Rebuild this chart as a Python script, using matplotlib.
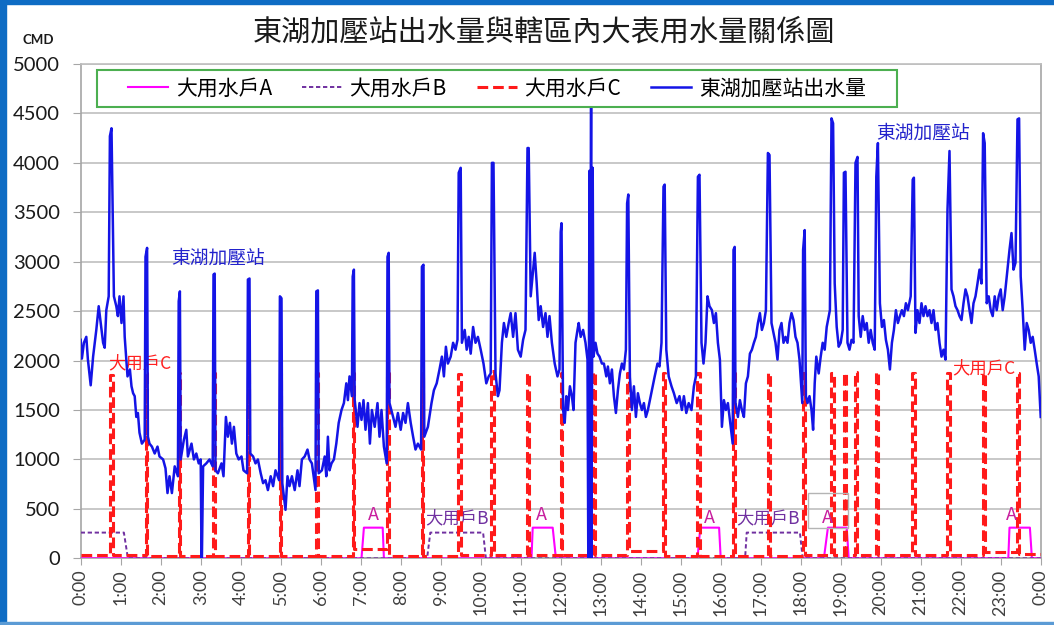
"""Donghu booster station outflow vs. large-user demand over one day."""

import matplotlib

matplotlib.use("Agg")
import matplotlib.pyplot as plt
from matplotlib.patches import Rectangle

plt.rcParams["font.family"] = ["Noto Sans CJK TC", "DejaVu Sans"]

# ---------------------------------------------------------------------------
# Data (hours since 0:00, values in CMD)
# ---------------------------------------------------------------------------
TITLE = "東湖加壓站出水量與轄區內大表用水量關係圖"
SERIES_NAMES = ["大用水戶A", "大用水戶B", "大用水戶C", "東湖加壓站出水量"]

HOUR_TICKS = list(range(25))
HOUR_LABELS = [
    "0:00", "1:00", "2:00", "3:00", "4:00", "5:00", "6:00", "7:00", "8:00",
    "9:00", "10:00", "11:00", "12:00", "13:00", "14:00", "15:00", "16:00",
    "17:00", "18:00", "19:00", "20:00", "21:00", "22:00", "23:00", "0:00",
]
CMD_TICKS = [0, 500, 1000, 1500, 2000, 2500, 3000, 3500, 4000, 4500, 5000]

STATION_HOURS = [
    0.00, 0.03, 0.08, 0.14, 0.18, 0.25, 0.31, 0.39, 0.45, 0.50, 0.56, 0.60, 0.64, 0.70, 0.73, 0.77, 0.80, 0.83, 0.89, 0.93, 0.97,
    1.02, 1.07, 1.10, 1.17, 1.23, 1.27, 1.31, 1.35, 1.39, 1.43, 1.47, 1.53, 1.60, 1.62, 1.66, 1.68, 1.72, 1.78, 1.85, 1.92, 1.97,
    2.06, 2.12, 2.17, 2.22, 2.28, 2.35, 2.43, 2.45, 2.48, 2.50, 2.58, 2.64, 2.68, 2.77, 2.83, 2.89, 2.95,
    3.00, 3.02, 3.03, 3.06, 3.14, 3.22, 3.30, 3.32, 3.35, 3.37, 3.43, 3.52, 3.57, 3.63, 3.68, 3.73, 3.78, 3.83, 3.89, 3.95,
    4.02, 4.07, 4.16, 4.18, 4.22, 4.24, 4.31, 4.37, 4.43, 4.50, 4.56, 4.62, 4.68, 4.75, 4.81, 4.87, 4.96, 4.98,
    5.02, 5.04, 5.12, 5.17, 5.22, 5.28, 5.35, 5.42, 5.47, 5.53, 5.60, 5.67, 5.72, 5.78, 5.87, 5.89, 5.93, 5.95,
    6.03, 6.10, 6.14, 6.18, 6.22, 6.27, 6.33, 6.39, 6.45, 6.52, 6.58, 6.64, 6.68, 6.72, 6.78, 6.80, 6.83, 6.85, 6.92, 6.97,
    7.02, 7.07, 7.12, 7.18, 7.23, 7.28, 7.35, 7.42, 7.47, 7.52, 7.58, 7.65, 7.67, 7.70, 7.72, 7.81, 7.87, 7.93,
    8.00, 8.06, 8.12, 8.18, 8.25, 8.31, 8.37, 8.43, 8.51, 8.53, 8.57, 8.59, 8.68, 8.77, 8.83, 8.90, 8.97,
    9.03, 9.08, 9.13, 9.18, 9.25, 9.31, 9.37, 9.42, 9.45, 9.50, 9.53, 9.60, 9.65, 9.70, 9.75, 9.81, 9.87, 9.93,
    10.00, 10.07, 10.14, 10.20, 10.25, 10.28, 10.32, 10.37, 10.43, 10.47, 10.53, 10.58, 10.64, 10.70, 10.75, 10.81, 10.87, 10.93,
    11.00, 11.06, 11.12, 11.17, 11.20, 11.25, 11.31, 11.35, 11.40, 11.45, 11.50, 11.56, 11.62, 11.67, 11.72, 11.78, 11.85, 11.92, 11.97,
    12.00, 12.02, 12.06, 12.10, 12.14, 12.18, 12.23, 12.28, 12.32, 12.37, 12.42, 12.45, 12.50, 12.56, 12.62, 12.67, 12.69, 12.72, 12.73, 12.76, 12.77, 12.80, 12.82, 12.87, 12.92, 12.97,
    13.03, 13.08, 13.14, 13.18, 13.23, 13.28, 13.33, 13.38, 13.43, 13.48, 13.53, 13.58, 13.63, 13.66, 13.69, 13.73, 13.78, 13.83, 13.88, 13.93, 13.98,
    14.03, 14.08, 14.13, 14.18, 14.23, 14.28, 14.35, 14.42, 14.47, 14.52, 14.57, 14.60, 14.64, 14.70, 14.77, 14.83, 14.90, 14.97,
    15.03, 15.08, 15.14, 15.20, 15.27, 15.33, 15.38, 15.43, 15.47, 15.52, 15.57, 15.62, 15.67, 15.72, 15.78, 15.83, 15.88, 15.93, 15.98,
    16.03, 16.08, 16.13, 16.18, 16.23, 16.30, 16.32, 16.35, 16.37, 16.43, 16.48, 16.53, 16.58, 16.63, 16.68, 16.73, 16.78, 16.83, 16.88, 16.93, 16.98,
    17.03, 17.08, 17.13, 17.18, 17.22, 17.27, 17.32, 17.37, 17.42, 17.47, 17.52, 17.57, 17.62, 17.67, 17.72, 17.77, 17.82, 17.87, 17.92, 17.97,
    18.04, 18.06, 18.10, 18.13, 18.17, 18.22, 18.27, 18.31, 18.35, 18.39, 18.45, 18.50, 18.55, 18.60, 18.65, 18.70, 18.73, 18.77, 18.81, 18.85, 18.90, 18.95,
    19.00, 19.05, 19.08, 19.12, 19.17, 19.22, 19.27, 19.32, 19.37, 19.42, 19.45, 19.50, 19.55, 19.60, 19.65, 19.70, 19.75, 19.80, 19.85, 19.89, 19.93, 19.98,
    20.03, 20.08, 20.13, 20.18, 20.23, 20.28, 20.33, 20.38, 20.43, 20.48, 20.53, 20.58, 20.63, 20.68, 20.75, 20.80, 20.83, 20.87, 20.92, 20.97,
    21.02, 21.07, 21.12, 21.17, 21.22, 21.27, 21.32, 21.37, 21.42, 21.47, 21.52, 21.57, 21.62, 21.67, 21.72, 21.77, 21.82, 21.87, 21.92, 21.97,
    22.02, 22.07, 22.12, 22.17, 22.22, 22.27, 22.32, 22.37, 22.42, 22.47, 22.52, 22.56, 22.60, 22.65, 22.70, 22.75, 22.80, 22.85, 22.90, 22.95,
    23.00, 23.05, 23.10, 23.17, 23.22, 23.27, 23.32, 23.37, 23.42, 23.46, 23.50, 23.55, 23.60, 23.65, 23.70, 23.75, 23.80, 23.85, 23.90, 23.95, 24.00,
]
STATION_CMD = [
    2210, 2020, 2180, 2240, 2010, 1750, 2040, 2310, 2550, 2380, 2180, 2130, 2510, 2650, 4270, 4350, 3530, 2650, 2550, 2450, 2650,
    2380, 2650, 2240, 1840, 1910, 1740, 1670, 1640, 1430, 1470, 1270, 1160, 1200, 3050, 3140, 1230, 1160, 1130, 1060, 1130, 1030,
    1000, 910, 660, 830, 660, 930, 830, 2600, 2700, 1000, 1200, 1300, 1030, 1160, 1000, 1060, 960,
    1000, 0, 0, 930, 960, 1000, 930, 2870, 2880, 890, 860, 960, 830, 1430, 1230, 1370, 1160, 1330, 1060, 1000,
    1030, 890, 860, 2820, 2830, 1060, 1030, 960, 1000, 860, 760, 790, 690, 830, 730, 890, 790, 2650,
    2630, 760, 490, 830, 730, 830, 690, 890, 730, 1000, 1030, 1100, 1000, 960, 690, 2700, 2710, 860,
    890, 1030, 830, 1230, 890, 960, 1000, 1160, 1370, 1500, 1570, 1770, 1600, 1840, 1640, 2850, 2920, 1600, 1330, 1570,
    1400, 1600, 1300, 1570, 1160, 1500, 1330, 1570, 1230, 1500, 1130, 960, 3050, 3090, 1570, 1430, 1330, 1470,
    1300, 1470, 1370, 1570, 1370, 1230, 1100, 1160, 1100, 2950, 2970, 1230, 1330, 1570, 1700, 1770, 1910,
    2040, 1840, 2140, 1970, 2040, 2180, 2110, 2210, 3900, 3950, 2180, 2310, 2110, 2240, 2070, 2340, 2180, 2240,
    2110, 1970, 1770, 1840, 1870, 4000, 4000, 1870, 1640, 1700, 2180, 2380, 2240, 2380, 2480, 2240, 2480, 2110,
    2040, 2210, 2310, 4150, 4150, 2650, 2920, 3090, 2780, 2410, 2550, 2340, 2480, 2240, 2450, 2180, 1970, 1840, 1910,
    3300, 3390, 1500, 1370, 1640, 1500, 1740, 1640, 1500, 2180, 2310, 2380, 2240, 2310, 2180, 2010, 0, 3920, 0, 4600, 0, 3950, 2040, 2180, 2070, 2040,
    1970, 1970, 1840, 1940, 1770, 1910, 1640, 1470, 1700, 1870, 1970, 1910, 2110, 3590, 3680, 1840, 1500, 1740, 1430, 1670, 1570,
    1500, 1570, 1430, 1500, 1600, 1700, 1840, 1970, 1940, 2180, 3760, 3780, 2110, 1840, 1740, 1670, 1570, 1640,
    1500, 1640, 1470, 1570, 1500, 1740, 1840, 3860, 3880, 2180, 1970, 2180, 2650, 2550, 2510, 2380, 2480, 2180, 2010,
    1330, 1600, 1500, 1570, 1400, 1160, 3120, 3150, 1570, 1430, 1600, 1500, 1430, 1770, 1840, 2070, 2110, 2180, 2240, 2380, 2480,
    2310, 2380, 2510, 4100, 4080, 2380, 2280, 2180, 2010, 2310, 2380, 2180, 2240, 2180, 2380, 2480, 2410, 2240, 2180, 2010,
    1570, 3120, 3320, 1640, 1570, 1640, 1500, 1300, 1770, 2040, 1870, 2040, 2180, 2110, 2340, 2450, 2510, 4450, 4400, 2780, 2340, 2140,
    2180, 2310, 3900, 3910, 2180, 2110, 2210, 2180, 4000, 4060, 2450, 2240, 2450, 2310, 2380, 2180, 2310, 2180, 2110, 3860, 4200, 2580,
    2340, 2410, 2210, 2110, 1910, 2180, 2310, 2510, 2380, 2450, 2510, 2450, 2580, 2510, 2650, 3830, 3850, 2280, 2510, 2380,
    2580, 2450, 2550, 2450, 2510, 2380, 2510, 2310, 2380, 2180, 2040, 2110, 2010, 3530, 4120, 2720, 2650, 2550, 2510, 2450,
    2410, 2580, 2720, 2650, 2510, 2380, 2580, 2650, 2780, 2920, 2780, 4300, 4200, 2580, 2650, 2510, 2450, 2650, 2510, 2650,
    2720, 2510, 2650, 2920, 3120, 3290, 2920, 2990, 4440, 4450, 2850, 2510, 2110, 2380, 2310, 2180, 2240, 2110, 1970, 1840, 1430,
]

# Large user C: short draw pulses (start, end, peak) and the trickle level after each
C_START = [0.73, 1.62, 2.45, 3.32, 4.18, 4.98, 5.89, 6.80, 7.67, 8.53, 9.44, 10.27,
           11.16, 12.00, 12.80, 13.65, 14.56, 15.42, 16.31, 17.18, 18.06, 18.77,
           19.08, 19.37, 19.89, 20.79, 21.67, 22.56, 23.41]
C_END = [0.81, 1.66, 2.48, 3.35, 4.22, 5.02, 5.93, 6.83, 7.70, 8.57, 9.52, 10.33,
         11.22, 12.03, 12.86, 13.71, 14.62, 15.48, 16.35, 17.24, 18.10, 18.83,
         19.13, 19.42, 19.94, 20.85, 21.73, 22.62, 23.47]
C_PEAK = [1850, 1870, 1870, 1870, 1870, 1870, 1870, 1870, 1870, 1870, 1860, 1890,
          1870, 1870, 1880, 1870, 1870, 1870, 1870, 1870, 1870, 1870,
          1870, 1880, 1880, 1870, 1870, 1870, 1870]
C_BASE_AFTER = [30, 25, 25, 25, 25, 25, 25, 90, 25, 25, 30, 30,
                30, 30, 30, 70, 25, 25, 25, 25, 30, 30,
                30, 30, 30, 30, 30, 60, 40]
C_BASE_START = 30

# Large user A: flat-topped draws
A_RISE = [7.02, 11.27, 15.42, 18.58, 23.19]
A_ON = [7.08, 11.30, 15.49, 18.68, 23.22]
A_OFF = [7.55, 11.80, 15.96, 19.15, 23.73]
A_FALL = [7.58, 11.88, 16.00, 19.20, 23.78]
A_LEVEL = 310

# Large user B: flat-topped draws (the first one is already running at 0:00)
B_RISE = [0.00, 8.66, 16.61]
B_ON = [0.00, 8.74, 16.65]
B_OFF = [1.08, 10.06, 17.98]
B_FALL = [1.18, 10.13, 18.05]
B_LEVEL = 260


def trapezoid_series(rise, on, off, fall, level):
    """Turn a list of flat-topped draws into a line over the day."""
    hours, cmd = [0.0], [level if on[0] == 0 else 0]
    for r, a, b, f in zip(rise, on, off, fall):
        if a > 0:
            hours += [r, a]
            cmd += [0, level]
        hours += [b, f]
        cmd += [level, 0]
    hours.append(24.0)
    cmd.append(0)
    return hours, cmd


def pulse_series(start, end, peak, base_after, base_start):
    """Turn the user C pulse table into a step line."""
    hours, cmd = [0.0], [base_start]
    prev = base_start
    for s, e, p, b in zip(start, end, peak, base_after):
        hours += [s, s, e, e]
        cmd += [prev, p, p, b]
        prev = b
    hours.append(24.0)
    cmd.append(prev)
    return hours, cmd


def main() -> None:
    assert len(STATION_HOURS) == len(STATION_CMD)

    W, H = 1054, 625
    fig = plt.figure(figsize=(W / 100, H / 100), dpi=100)
    left, right, top, bottom = 80.7, 1040.7, 64.0, 558.3
    ax = fig.add_axes([left / W, 1 - bottom / H, (right - left) / W, (bottom - top) / H])

    a_h, a_v = trapezoid_series(A_RISE, A_ON, A_OFF, A_FALL, A_LEVEL)
    b_h, b_v = trapezoid_series(B_RISE, B_ON, B_OFF, B_FALL, B_LEVEL)
    c_h, c_v = pulse_series(C_START, C_END, C_PEAK, C_BASE_AFTER, C_BASE_START)

    line_a, = ax.plot(a_h, a_v, color="#FF00FF", lw=1.5, zorder=3)
    line_b, = ax.plot(b_h, b_v, color="#7030A0", lw=1.4, dashes=(2.2, 1.4), zorder=3)
    line_c, = ax.plot(c_h, c_v, color="#FF1A1A", lw=2.2, dashes=(3.5, 1.6), zorder=4)
    line_s, = ax.plot(STATION_HOURS, STATION_CMD, color="#1414E6", lw=1.8, zorder=5)

    ax.set_xlim(0, 24)
    ax.set_ylim(0, 5000)
    ax.set_xticks(HOUR_TICKS)
    ax.set_xticklabels(HOUR_LABELS, rotation=90, family="Lato")
    ax.set_yticks(CMD_TICKS)
    ax.set_yticklabels([str(v) for v in CMD_TICKS], family="Lato")

    ax.yaxis.grid(True, color="#BFBFBF", lw=1.2)
    ax.set_axisbelow(True)
    for name, spine in ax.spines.items():
        spine.set_color("#BFBFBF" if name == "top" else "#A6A6A6")
        spine.set_linewidth(1.2)

    ax.tick_params(axis="x", direction="out", length=5, color="#A6A6A6",
                   labelsize=13, labelcolor="#404040", pad=3)
    ax.tick_params(axis="y", direction="out", length=6, color="#A6A6A6",
                   labelsize=14.5, labelcolor="#1A1A1A", pad=9)

    # legend: green box with the entries spread across it
    ax.add_patch(Rectangle((0.017, 0.913), 0.833, 0.075, transform=ax.transAxes,
                           facecolor="white", edgecolor="#4CAF50", lw=1.5, zorder=8))
    leg = ax.legend(
        [line_a, line_b, line_c, line_s], SERIES_NAMES,
        ncol=4, loc="center", bbox_to_anchor=(0.4337, 0.9505),
        frameon=False, fontsize=15, handlelength=1.9, handletextpad=0.38,
        columnspacing=1.45, borderaxespad=0, borderpad=0,
    )
    leg.set_zorder(10)

    # in-chart labels
    ax.text(3.43, 3040, "東湖加壓站", color="#2222CC", fontsize=13.5, ha="center", va="center")
    ax.text(21.06, 4300, "東湖加壓站", color="#2222CC", fontsize=13.5, ha="center", va="center")
    ax.text(1.48, 1975, "大用戶C", color="#FF2020", fontsize=12.5, ha="center", va="center")
    ax.text(22.58, 1925, "大用戶C", color="#FF2020", fontsize=12.5, ha="center", va="center")
    ax.text(9.41, 408, "大用戶B", color="#7030A0", fontsize=12.5, ha="center", va="center")
    ax.text(17.18, 408, "大用戶B", color="#7030A0", fontsize=12.5, ha="center", va="center")
    for x, y in [(7.33, 439), (11.53, 439), (15.73, 408), (18.68, 408), (23.26, 439)]:
        ax.text(x, y, "A", color="#C81E9E", fontsize=13, ha="center", va="center", zorder=7)
    ax.add_patch(Rectangle((18.18, 307), 1.0, 354, fill=False, ec="#B4B4B4", lw=1, zorder=6))

    fig.text(544 / W, 1 - 33 / H, TITLE, ha="center", va="center", fontsize=21, color="#1A1A1A")
    fig.text(38 / W, 1 - 40 / H, "CMD", ha="center", va="center", fontsize=9.5,
             fontweight="bold", family="Lato", color="#1A1A1A")

    # blue frame around the picture
    blue = "#0E6CC4"
    fig.add_artist(Rectangle((0, 0), 6 / W, 1, transform=fig.transFigure, color=blue, zorder=0))
    fig.add_artist(Rectangle((0, 1 - 4 / H), 1, 4 / H, transform=fig.transFigure, color=blue, zorder=0))
    fig.add_artist(Rectangle((0, 1 / H), 1, 2.5 / H, transform=fig.transFigure, color="#5B9BD5", zorder=0))

    fig.savefig("out.png", dpi=100)
    plt.close(fig)


if __name__ == "__main__":
    main()
